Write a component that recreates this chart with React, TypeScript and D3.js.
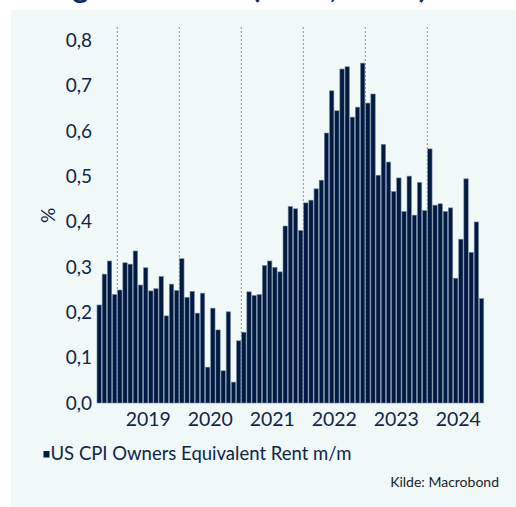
import React from "react";
import * as d3 from "d3";

const START_MONTH = "2018-09";
const VALUES: number[] = [
  // 2018 Sep-Dec
  0.216, 0.284, 0.313, 0.239,
  // 2019
  0.249, 0.309, 0.306, 0.335, 0.26, 0.298, 0.247, 0.252, 0.279, 0.192, 0.262, 0.248,
  // 2020
  0.318, 0.233, 0.246, 0.198, 0.242, 0.079, 0.209, 0.161, 0.071, 0.201, 0.046, 0.137,
  // 2021
  0.156, 0.245, 0.237, 0.239, 0.303, 0.313, 0.299, 0.289, 0.39, 0.433, 0.428, 0.38,
  // 2022
  0.441, 0.447, 0.472, 0.491, 0.595, 0.688, 0.644, 0.736, 0.741, 0.63, 0.652, 0.749,
  // 2023
  0.661, 0.681, 0.502, 0.57, 0.531, 0.466, 0.496, 0.422, 0.5, 0.414, 0.486, 0.424,
  // 2024 Jan-Nov
  0.56, 0.436, 0.439, 0.422, 0.43, 0.275, 0.361, 0.494, 0.332, 0.399, 0.23,
];
const YEARS = [2019, 2020, 2021, 2022, 2023, 2024];
const Y_TICKS = [0, 0.1, 0.2, 0.3, 0.4, 0.5, 0.6, 0.7, 0.8];
const SERIES_NAME = "US CPI Owners Equivalent Rent m/m";
const SOURCE = "Kilde: Macrobond";
const Y_LABEL = "%";
const TITLE = "Boligleie i USA (OER, m/m)";

const W = 516;
const H = 507;
const FONT = "Lato, 'Noto Sans', sans-serif";
const NAVY = "#0f2548";
const BAR = "#001a42";

export default function App() {
  const startDate = d3.timeParse("%Y-%m")(START_MONTH) as Date;
  const months = VALUES.map((_, i) => d3.timeMonth.offset(startDate, i));
  const idx = (d: Date) =>
    (d.getFullYear() - startDate.getFullYear()) * 12 + d.getMonth() - startDate.getMonth();
  const endIdx = idx(new Date(2025, 0, 1));

  const x = d3.scaleLinear().domain([0, endIdx]).range([96.6, 489.3]);
  const y = d3.scaleLinear().domain([0, 0.8]).range([403, 40]);
  const step = x(1) - x(0);
  const fmt = d3
    .formatLocale({ decimal: ",", thousands: " ", grouping: [3], currency: ["", ""] })
    .format(".1f");

  return (
    <svg
      width={W}
      height={H}
      style={{ position: "absolute", left: 0, top: 0 }}
      xmlns="http://www.w3.org/2000/svg"
    >
      <rect x={0} y={0} width={W} height={H} fill="#ffffff" />
      <text
        x={11}
        y={-2}
        fontFamily={FONT}
        fontWeight={700}
        fontSize={30}
        fill="#0d2b5c"
        textLength={416}
        lengthAdjust="spacing"
      >
        {TITLE}
      </text>
      <rect x={11} y={10} width={W - 11} height={H - 10} fill="#f0f8f8" />

      {/* year separators */}
      {YEARS.map((yr) => {
        const xx = x(idx(new Date(yr, 0, 1)));
        return (
          <line
            key={"d" + yr}
            x1={xx}
            x2={xx}
            y1={27}
            y2={403}
            stroke="#8a8f96"
            strokeWidth={1}
            strokeDasharray="2,2"
          />
        );
      })}

      {/* bars */}
      {VALUES.map((v, i) => {
        const x0 = x(idx(months[i]));
        return (
          <rect
            key={i}
            x={x0 + 0.4}
            y={y(v)}
            width={step - 0.8}
            height={y(0) - y(v)}
            fill={BAR}
            stroke="#7587a2"
            strokeWidth={0.6}
          />
        );
      })}

      {/* y axis labels */}
      {Y_TICKS.map((t) => (
        <text
          key={"y" + t}
          x={92}
          y={y(t)}
          dy="0.36em"
          textAnchor="end"
          fontFamily={FONT}
          fontSize={19}
          fill={NAVY}
        >
          {fmt(t)}
        </text>
      ))}

      {/* x axis labels */}
      {YEARS.map((yr) => (
        <text
          key={"x" + yr}
          x={x(idx(new Date(yr, 0, 1)) + 6)}
          y={425.7}
          textAnchor="middle"
          fontFamily={FONT}
          fontSize={19.5}
          fill={NAVY}
        >
          {yr}
        </text>
      ))}

      <text
        transform="translate(54.5,215.5) rotate(-90)"
        textAnchor="middle"
        fontFamily={FONT}
        fontSize={19}
        fill={NAVY}
      >
        {Y_LABEL}
      </text>

      {/* legend */}
      <rect x={43.5} y={451} width={6} height={6.5} fill={BAR} />
      <text x={50.5} y={460.3} fontFamily={FONT} fontSize={18.5} fill={NAVY}>
        {SERIES_NAME}
      </text>

      <text
        x={499}
        y={487}
        textAnchor="end"
        fontFamily={FONT}
        fontSize={14}
        fill="#1a1f2a"
      >
        {SOURCE}
      </text>
    </svg>
  );
}
